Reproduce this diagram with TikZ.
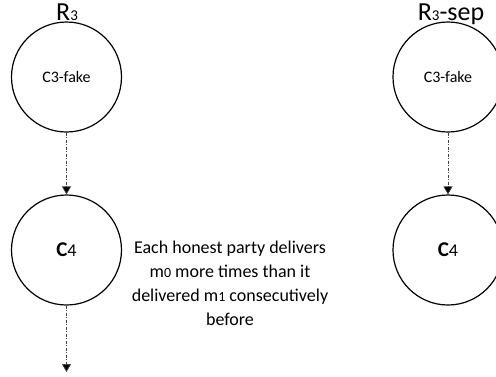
\documentclass[tikz,border=0pt]{standalone}
\usepackage{fontspec}
\setmainfont{Carlito}
\usetikzlibrary{arrows.meta}
\tikzset{
  state/.style={draw=black, line width=1.2pt, circle, minimum size=110pt, inner sep=0pt},
  flow/.style={draw=black!75, line width=0.7pt, dash pattern=on 3pt off 1.5pt on 1pt off 1.5pt,
    -{Triangle[width=9pt,length=8pt,fill=black]}},
  title/.style={font=\fontsize{26}{30}\selectfont, anchor=base, inner sep=0pt},
  note/.style={font=\fontsize{18}{24}\selectfont, align=center, inner sep=0pt}
}
\newcommand{\smalldig}[1]{{\fontsize{15}{15}\selectfont #1}}
\newcommand{\tinydig}[1]{{\fontsize{14}{14}\selectfont #1}}
\begin{document}
\begin{tikzpicture}[x=1pt,y=-1pt]
\useasboundingbox (0,0) rectangle (496,376);
\clip (0,0) rectangle (496,376);
\node[title] (t1) at (67,20) {R\smalldig{3}};
\node[title] (t2) at (451,20) {R\smalldig{3}-sep};
\node[state, font=\fontsize{16}{18}\selectfont] (a1) at (66.5,77) {C3-fake};
\node[state] (a2) at (66.5,250) {{\fontsize{21}{24}\selectfont\bfseries C}{\fontsize{18}{20}\selectfont 4}};
\node[state, font=\fontsize{16}{18}\selectfont] (b1) at (448,77) {C3-fake};
\node[state] (b2) at (448,250) {{\fontsize{21}{24}\selectfont\bfseries C}{\fontsize{18}{20}\selectfont 4}};
\coordinate (end) at (66.5,372);
\draw[flow] (a1) -- (a2);
\draw[flow] (a2) -- (end);
\draw[flow] (b1) -- (b2);
\node[note] (txt) at (230,283) {Each honest party delivers\\m\tinydig{0} more times than it\\delivered m\tinydig{1} consecutively\\before};
\end{tikzpicture}
\end{document}
